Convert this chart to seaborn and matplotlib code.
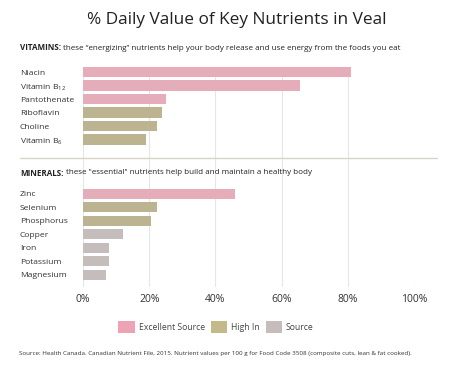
import pandas as pd
import numpy as np
import matplotlib
matplotlib.use("Agg")
import matplotlib.pyplot as plt
import seaborn as sns
from matplotlib.lines import Line2D
from matplotlib.patches import Patch

# Data
vitamins = ["Niacin", "Vitamin B$_{12}$", "Pantothenate", "Riboflavin", "Choline", "Vitamin B$_6$"]
vitamin_values = [81, 65.5, 25, 24, 22.5, 19]
vitamin_levels = ["Excellent Source", "Excellent Source", "Excellent Source", "High In", "High In", "High In"]

minerals = ["Zinc", "Selenium", "Phosphorus", "Copper", "Iron", "Potassium", "Magnesium"]
mineral_values = [46, 22.5, 20.5, 12, 8, 8, 7]
mineral_levels = ["Excellent Source", "High In", "High In", "Source", "Source", "Source", "Source"]

levels = ["Excellent Source", "High In", "Source"]
colors = {"Excellent Source": "#eea3b4", "High In": "#c3b98a", "Source": "#c6bcbb"}
x_ticks = [0, 20, 40, 60, 80, 100]

FONT = "Open Sans"
W, H = 474, 376

# rows: vitamins 0..5, gap, minerals 9..15
df = pd.DataFrame({
    "nutrient": vitamins + minerals,
    "value": vitamin_values + mineral_values,
    "level": vitamin_levels + mineral_levels,
    "row": list(range(len(vitamins))) + list(range(9, 9 + len(minerals))),
})

sns.set_style("white")
plt.rcParams["font.family"] = [FONT, "DejaVu Sans"]
plt.rcParams["mathtext.fontset"] = "custom"
plt.rcParams["mathtext.rm"] = FONT

fig = plt.figure(figsize=(W / 100, H / 100), dpi=100)
# axes from x=83..414 px, y=67..287 px
ax = fig.add_axes([83 / W, 1 - 287 / H, (414 - 83) / W, 220 / H])

sns.barplot(data=df, x="value", y="row", hue="level", hue_order=levels,
            palette=colors, orient="h", native_scale=True, dodge=False,
            width=0.76, legend=False, linewidth=0, ax=ax)

ax.set_xlim(0, 100)
ax.set_ylim(15.9, -0.37)
ax.set_xticks(x_ticks)
ax.set_xticklabels([f"{t}%" for t in x_ticks], fontsize=7.5, color="#333333")
ax.tick_params(axis="x", length=0, pad=5)
ax.grid(axis="x", color="#e6e6e6", linewidth=0.8)
ax.set_axisbelow(True)
for s in ax.spines.values():
    s.set_visible(False)

ax.set_yticks(df["row"])
ax.set_yticklabels(df["nutrient"], fontsize=6.1, color="#333333")
ax.tick_params(axis="y", length=0, pad=45.5)
for lab in ax.get_yticklabels():
    lab.set_horizontalalignment("left")
ax.set_xlabel("")
ax.set_ylabel("")

# title
fig.text(0.5, 1 - 20 / H, "% Daily Value of Key Nutrients in Veal", ha="center", va="center",
         fontsize=12.4, color="#222222")


def header(y_px, bold, rest):
    t = fig.text(20 / W, 1 - y_px / H, bold, ha="left", va="center", fontsize=5.75,
                 fontweight="bold", color="#222222")
    fig.canvas.draw()
    bb = t.get_window_extent()
    fig.text((bb.x1 + 2) / W, 1 - y_px / H, rest, ha="left", va="center", fontsize=5.75,
             color="#222222")


header(48, "VITAMINS:", "these \u201cenergizing\u201d nutrients help your body release and use energy from the foods you eat")
header(173, "MINERALS:", "these \"essential\" nutrients help build and maintain a healthy body")

# separator between groups
fig.add_artist(Line2D([20 / W, 437 / W], [1 - 158 / H, 1 - 158 / H], color="#d9d5c3", linewidth=1))

# legend
handles = [Patch(facecolor=colors[l], edgecolor="none") for l in levels]
fig.legend(handles, levels, loc="center", bbox_to_anchor=(216 / W, 1 - 327 / H), ncol=3,
           frameon=False, fontsize=6.2, handlelength=1.9, handleheight=1.7,
           columnspacing=0.7, handletextpad=0.45, labelcolor="#444444")

fig.text(19 / W, 1 - 353 / H,
         "Source: Health Canada. Canadian Nutrient File, 2015. Nutrient values per 100 g for Food Code 3508 (composite cuts, lean & fat cooked).",
         ha="left", va="center", fontsize=4.5, color="#333333")

fig.savefig("out.png", dpi=100)
